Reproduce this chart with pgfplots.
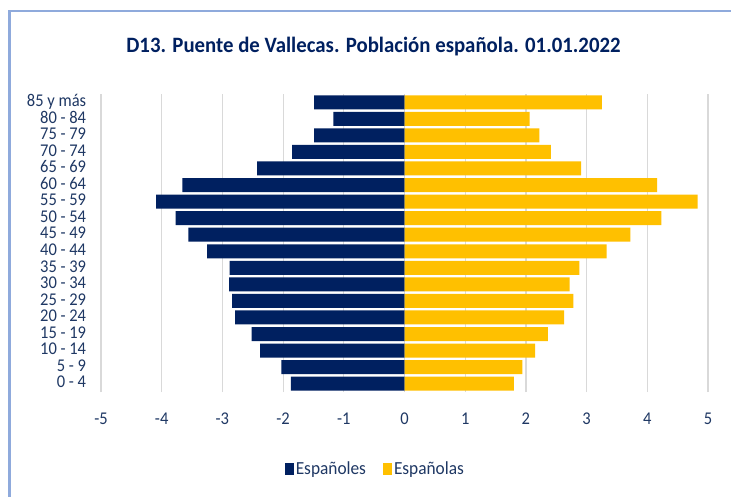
\documentclass[border=0pt]{standalone}
\usepackage{pgfplots}
\pgfplotsset{compat=1.18}
\usepackage{fontspec}
\setmainfont{Carlito}
\definecolor{navy}{HTML}{002060}
\definecolor{gold}{HTML}{FFC000}
\definecolor{lbl}{HTML}{1F3864}
\definecolor{frameblue}{HTML}{8FAADC}
\definecolor{gridgray}{HTML}{D9D9D9}
\begin{document}
\begin{tikzpicture}
\useasboundingbox (0bp,0bp) rectangle (731bp,497bp);
\fill[white] (0bp,0bp) rectangle (731bp,497bp);
\draw[frameblue, line width=2.7bp] (9.5bp,-10bp) -- (9.5bp,486bp) -- (760bp,486bp);
\node[text=navy, xscale=0.95, font=\fontsize{22}{26}\selectfont\bfseries] at (373.5bp,450bp) {D13. Puente de Vallecas. Población española. 01.01.2022};
\begin{axis}[
  at={(101bp,105bp)}, anchor=south west, scale only axis,
  width=607bp, height=298bp,
  xmin=-5, xmax=5, ymin=-0.5, ymax=17.5,
  xtick={-5,-4,-3,-2,-1,0,1,2,3,4,5},
  xticklabels={-5,-4,-3,-2,-1,0,1,2,3,4,5},
  ytick={0,1,2,3,4,5,6,7,8,9,10,11,12,13,14,15,16,17},
  yticklabels={0 - 4,5 - 9,10 - 14,15 - 19,20 - 24,25 - 29,30 - 34,35 - 39,40 - 44,45 - 49,50 - 54,55 - 59,60 - 64,65 - 69,70 - 74,75 - 79,80 - 84,85 y más},
  xmajorgrids, grid style={gridgray, line width=1.2bp},
  axis line style={draw=none}, tick style={draw=none},
  ticklabel style={text=lbl, font=\fontsize{18}{20}\selectfont, xscale=0.92},
  xticklabel style={anchor=north, inner sep=0pt, yshift=-21bp},
  yticklabel style={anchor=east, inner sep=0pt, xshift=-16bp, text height=11bp, text depth=2.5bp},
  legend columns=2,
  legend style={draw=none, fill=none, at={(0.452,-0.258)}, anchor=center,
    font=\fontsize{18.5}{20}\selectfont, text=lbl,
    /tikz/every even column/.append style={column sep=15bp}},
  legend image code/.code={\fill[#1] (0bp,-6bp) rectangle (9bp,6bp);},
]
\addplot[xbar, bar shift=0pt, bar width=14bp, fill=navy, draw=none] coordinates {
(-1.87,0) (-2.03,1) (-2.38,2) (-2.52,3) (-2.79,4) (-2.84,5) (-2.89,6) (-2.88,7) (-3.25,8)
(-3.56,9) (-3.77,10) (-4.09,11) (-3.66,12) (-2.43,13) (-1.85,14) (-1.49,15) (-1.17,16) (-1.49,17)};
\addlegendentry{\scalebox{0.94}[1]{Españoles}}
\addplot[xbar, bar shift=0pt, bar width=14bp, fill=gold, draw=none] coordinates {
(1.80,0) (1.94,1) (2.15,2) (2.36,3) (2.63,4) (2.78,5) (2.72,6) (2.88,7) (3.33,8)
(3.72,9) (4.23,10) (4.83,11) (4.16,12) (2.91,13) (2.41,14) (2.22,15) (2.06,16) (3.25,17)};
\addlegendentry{\scalebox{0.94}[1]{Españolas}}
\end{axis}
\end{tikzpicture}
\end{document}
